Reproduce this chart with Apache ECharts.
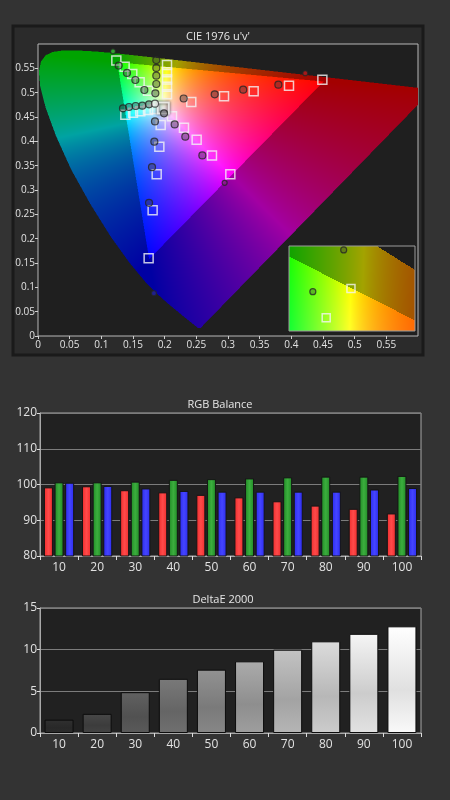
<!DOCTYPE html>
<html><head><meta charset="utf-8">
<script src="https://cdn.jsdelivr.net/npm/echarts@6/dist/echarts.min.js"></script>
<style>html,body{margin:0;padding:0;background:#333333;}#c{width:450px;height:800px;}</style>
</head><body><div id="c"></div><script>
// ---------- CIE 1976 u'v' spectral locus (closed by the purple line) ----------
const locusU = [0.2568,0.2522,0.2347,0.2161,0.2033,0.1877,0.1690,0.1441,0.1147,0.0828,0.0521,0.0282,0.0119,0.0035,0.0014,0.0046,0.0123,0.0231,0.0360,0.0501,0.0643,0.0792,0.0953,0.1127,0.1319,0.1531,0.2026,0.2623,0.3315,0.4035,0.4692,0.5203,0.5565,0.5830,0.6005,0.6234];
const locusV = [0.0166,0.0169,0.0350,0.0549,0.0688,0.0871,0.1119,0.1510,0.2044,0.2708,0.3427,0.4117,0.4698,0.5131,0.5432,0.5638,0.5770,0.5837,0.5861,0.5868,0.5865,0.5856,0.5841,0.5821,0.5796,0.5766,0.5694,0.5604,0.5501,0.5393,0.5296,0.5219,0.5165,0.5125,0.5099,0.5065];
const uvRange = [0, 0.6];
const insetURange = [0.132, 0.279];
const insetVRange = [0.5408, 0.5646];

// saturation sweep 20%,40%,60%,80%,100%  [u', v']
const redTarget = [[0.242,0.481],[0.2937,0.4925],[0.3405,0.5027],[0.3963,0.5144],[0.449,0.5267]];
const redMeasured = [[0.230,0.488],[0.279,0.4966],[0.324,0.5062],[0.3795,0.5165],[0.422,0.540]];
const greenTarget = [[0.1737,0.5041],[0.1605,0.5213],[0.1489,0.5384],[0.1368,0.5535],[0.1237,0.566]];
const greenMeasured = [[0.1679,0.5055],[0.1537,0.526],[0.1405,0.5405],[0.1274,0.5556],[0.1184,0.585]];
const blueTarget = [[0.1937,0.4335],[0.1916,0.3889],[0.1874,0.3326],[0.181,0.2586],[0.1747,0.1598]];
const blueMeasured = [[0.1847,0.441],[0.1837,0.3992],[0.18,0.347],[0.1753,0.2737],[0.183,0.0878]];
const cyanTarget = [[0.1842,0.4664],[0.1737,0.4643],[0.1616,0.4616],[0.15,0.4588],[0.1379,0.4547]];
const cyanMeasured = [[0.1753,0.476],[0.1647,0.4733],[0.1542,0.4726],[0.1437,0.4705],[0.1342,0.4678]];
const magentaTarget = [[0.2116,0.4513],[0.2305,0.428],[0.2505,0.4033],[0.2747,0.371],[0.3037,0.3326]];
const magentaMeasured = [[0.199,0.4575],[0.2158,0.4348],[0.2326,0.4095],[0.2595,0.371],[0.2947,0.3148]];
const yellowTarget = [[0.2037,0.497],[0.2037,0.512],[0.2037,0.527],[0.2037,0.542],[0.2037,0.557]];
const yellowMeasured = [[0.1853,0.4986],[0.1868,0.5178],[0.1868,0.535],[0.1868,0.5508],[0.1868,0.567]];
const whiteTarget = [[0.1978,0.4683]];
const whiteMeasured = [[0.1847,0.4774]];
// inset (zoomed) view points
const insetSquares = [[0.2043,0.5527],[0.1754,0.5445]];
const insetCircles = [[0.1958,0.5635],[0.1598,0.5518]];

// ---------- RGB Balance / DeltaE ----------
const levels = ['10','20','30','40','50','60','70','80','90','100'];
const rgbRed = [99.2,99.5,98.4,97.8,97.1,96.4,95.3,94.1,93.2,91.9];
const rgbGreen = [100.6,100.6,100.8,101.3,101.5,101.7,102.0,102.2,102.2,102.4];
const rgbBlue = [100.5,99.6,98.9,98.2,98.0,98.0,98.0,98.0,98.6,99.0];
const deltaE = [1.6,2.3,4.9,6.5,7.6,8.6,10.0,11.0,11.9,12.8];

const FONT = '"Open Sans", "Noto Sans", sans-serif';

function uvToRgb(u, v) {
  const den = 6*u - 16*v + 12;
  const x = 9*u/den, y = 4*v/den;
  const X = x/y, Z = (1-x-y)/y;
  let r = 3.2406*X - 1.5372 - 0.4986*Z;
  let g = -0.9689*X + 1.8758 + 0.0415*Z;
  let b = 0.0557*X - 0.2040 + 1.0570*Z;
  const inside = r >= 0 && g >= 0 && b >= 0;
  r = Math.max(r,0); g = Math.max(g,0); b = Math.max(b,0);
  if (!inside) g *= 1.25;
  const m = Math.max(r,g,b) || 1;
  const k = inside ? 1 : 0.64;
  return [r,g,b].map(function(c){
    c = Math.pow(c / m, 0.85);
    return Math.round(255*Math.min(1,c)*k);
  });
}
function gamutCanvas(uR, vR, w, h) {
  const cv = document.createElement('canvas'); cv.width = w; cv.height = h;
  const ctx = cv.getContext('2d'); const im = ctx.createImageData(w, h); const d = im.data;
  const n = locusU.length;
  for (let j = 0; j < h; j++) {
    const v = vR[1] - (j+0.5)/h*(vR[1]-vR[0]);
    const xs = [];
    for (let k = 0; k < n; k++) {
      const k2 = (k+1)%n;
      const ua = locusU[k], va = locusV[k], ub = locusU[k2], vb = locusV[k2];
      if ((va > v) !== (vb > v)) xs.push(ua + (v-va)/(vb-va)*(ub-ua));
    }
    for (let i = 0; i < w; i++) {
      const u = uR[0] + (i+0.5)/w*(uR[1]-uR[0]);
      let c = 0; for (let q = 0; q < xs.length; q++) if (xs[q] < u) c++;
      if (c % 2 === 0) continue;
      const rgb = uvToRgb(u, v); const p = (j*w+i)*4;
      d[p] = rgb[0]; d[p+1] = rgb[1]; d[p+2] = rgb[2]; d[p+3] = 255;
    }
  }
  ctx.putImageData(im, 0, 0);
  return cv;
}
const mainCanvas = gamutCanvas(uvRange, uvRange, 760, 584);
const insetCanvas = gamutCanvas(insetURange, insetVRange, 378, 255);

function gray(g){ g = Math.max(0, Math.min(255, Math.round(g))); return 'rgb('+g+','+g+','+g+')'; }

const series = [];
series.push({
  type: 'custom', xAxisIndex: 0, yAxisIndex: 0, silent: true, clip: true, z: 1,
  data: [uvRange],
  renderItem: function(params, api) {
    const tl = api.coord([uvRange[0], uvRange[1]]);
    const br = api.coord([uvRange[1], uvRange[0]]);
    return { type: 'image', style: { image: mainCanvas, x: tl[0], y: tl[1], width: br[0]-tl[0], height: br[1]-tl[1] } };
  }
});
const targetSets = [redTarget, greenTarget, blueTarget, cyanTarget, magentaTarget, yellowTarget];
targetSets.forEach(function(arr){
  series.push({ type: 'scatter', xAxisIndex: 0, yAxisIndex: 0, data: arr, symbol: 'rect', symbolSize: 9, silent: true, z: 3,
    itemStyle: { color: 'rgba(0,0,0,0)', borderColor: '#f4f4f4', borderWidth: 1.5 } });
});
series.push({ type: 'scatter', xAxisIndex: 0, yAxisIndex: 0, data: whiteTarget, symbol: 'rect', symbolSize: 11, silent: true, z: 3,
  itemStyle: { color: 'rgba(255,255,255,0.15)', borderColor: '#ffffff', borderWidth: 2, shadowColor: '#000', shadowBlur: 3 } });
const measuredSets = [
  [redMeasured, '#c81818'], [greenMeasured, '#36c436'], [blueMeasured, '#2020a8'],
  [cyanMeasured, null], [magentaMeasured, '#8a1a8a'], [yellowMeasured, null]
];
measuredSets.forEach(function(s){
  const full = s[1];
  series.push({ type: 'scatter', xAxisIndex: 0, yAxisIndex: 0, data: s[0], symbol: 'circle', silent: true, z: 4,
    symbolSize: function(val, p){ return (full && p.dataIndex === 4) ? 5 : 7; },
    itemStyle: {
      color: function(p){ return (full && p.dataIndex === 4) ? full : 'rgba(60,60,60,0.5)'; },
      borderColor: '#262626', borderWidth: 1.2 } });
});
series.push({ type: 'scatter', xAxisIndex: 0, yAxisIndex: 0, data: whiteMeasured, symbol: 'circle', symbolSize: 7, silent: true, z: 4,
  itemStyle: { color: 'rgba(235,235,235,0.9)', borderColor: '#333', borderWidth: 1.2 } });

// inset
series.push({
  type: 'custom', xAxisIndex: 1, yAxisIndex: 1, silent: true, clip: false, z: 5,
  data: [[insetURange[0], insetVRange[0]]],
  renderItem: function(params, api) {
    const tl = api.coord([insetURange[0], insetVRange[1]]);
    const br = api.coord([insetURange[1], insetVRange[0]]);
    return { type: 'group', children: [
      { type: 'rect', shape: { x: tl[0], y: tl[1], width: br[0]-tl[0], height: br[1]-tl[1] }, style: { fill: '#1e1e1e' } },
      { type: 'image', style: { image: insetCanvas, x: tl[0], y: tl[1], width: br[0]-tl[0], height: br[1]-tl[1] } },
      { type: 'rect', shape: { x: tl[0], y: tl[1], width: br[0]-tl[0], height: br[1]-tl[1] }, style: { fill: 'none', stroke: '#9c9c9c', lineWidth: 1 } }
    ] };
  }
});
series.push({ type: 'scatter', xAxisIndex: 1, yAxisIndex: 1, data: insetSquares, symbol: 'rect', symbolSize: 8, silent: true, z: 6,
  itemStyle: { color: 'rgba(0,0,0,0)', borderColor: '#f4f4f4', borderWidth: 1.5 } });
series.push({ type: 'scatter', xAxisIndex: 1, yAxisIndex: 1, data: insetCircles, symbol: 'circle', symbolSize: 6, silent: true, z: 6,
  itemStyle: { color: 'rgba(60,60,60,0.45)', borderColor: '#262626', borderWidth: 1.2 } });

function hGrad(edge, mid) {
  return new echarts.graphic.LinearGradient(0,0,1,0,[{offset:0,color:edge},{offset:0.5,color:mid},{offset:1,color:edge}]);
}
const rgbBar = { type: 'bar', xAxisIndex: 2, yAxisIndex: 2, barWidth: 9, barGap: '18%', silent: true };
series.push(Object.assign({}, rgbBar, { data: rgbRed, itemStyle: { color: hGrad('#ee2c2c', '#ff4a4a'), borderColor: '#151515', borderWidth: 1 } }));
series.push(Object.assign({}, rgbBar, { data: rgbGreen, itemStyle: { color: hGrad('#1f8a25', '#3cae3e'), borderColor: '#151515', borderWidth: 1 } }));
series.push(Object.assign({}, rgbBar, { data: rgbBlue, itemStyle: { color: hGrad('#2a2aee', '#4545ff'), borderColor: '#151515', borderWidth: 1 } }));
series.push({ type: 'bar', xAxisIndex: 3, yAxisIndex: 3, data: deltaE, barWidth: 29, silent: true,
  itemStyle: {
    color: function(p){ const g = 44 + p.dataIndex*22.8;
      return new echarts.graphic.LinearGradient(0,0,0,1,[{offset:0,color:gray(g*1.08)},{offset:0.6,color:gray(g*0.9)},{offset:1,color:gray(g*1.0)}]); },
    borderColor: '#0c0c0c', borderWidth: 1 } });

const labelStyle = { color: '#e2e2e2', fontFamily: FONT };
function catAxis(gi) {
  return { gridIndex: gi, type: 'category', data: levels,
    axisLine: { show: true, lineStyle: { color: '#a8a8a8' } },
    axisTick: { show: true, length: 4, lineStyle: { color: '#dddddd' } },
    axisLabel: Object.assign({ fontSize: 12, margin: 6 }, labelStyle), splitLine: { show: false } };
}
function valAxis(gi, min, max, step) {
  return { gridIndex: gi, type: 'value', min: min, max: max, interval: step,
    axisLine: { show: true, lineStyle: { color: '#a8a8a8' } },
    axisTick: { show: true, length: 3, lineStyle: { color: '#dddddd' } },
    axisLabel: Object.assign({ fontSize: 12, margin: 3 }, labelStyle),
    splitLine: { show: true, lineStyle: { color: '#7c7c7c', width: 1 } } };
}

const option = {
  animation: false,
  backgroundColor: '#333333',
  textStyle: { fontFamily: FONT },
  graphic: [
    { type: 'rect', z: -10, shape: { x: 13, y: 26, width: 410, height: 329 }, style: { fill: '#2b2b2b', stroke: '#1a1a1a', lineWidth: 3 } },
    { type: 'text', x: 218, y: 37, style: { text: "CIE 1976 u'v'", fill: '#e6e6e6', font: '11px ' + FONT, align: 'center', verticalAlign: 'middle', textAlign: 'center', textVerticalAlign: 'middle' } },
    { type: 'text', x: 220, y: 405, style: { text: 'RGB Balance', fill: '#e6e6e6', font: '11px ' + FONT, align: 'center', verticalAlign: 'middle', textAlign: 'center', textVerticalAlign: 'middle' } },
    { type: 'text', x: 223, y: 600, style: { text: 'DeltaE 2000', fill: '#e6e6e6', font: '11px ' + FONT, align: 'center', verticalAlign: 'middle', textAlign: 'center', textVerticalAlign: 'middle' } }
  ],
  grid: [
    { left: 38, top: 44, width: 380, height: 292, show: true, backgroundColor: '#1f1f1f', borderColor: '#b8b8b8', borderWidth: 1 },
    { left: 289, top: 246, width: 126, height: 85, show: false },
    { left: 40, top: 413, width: 381, height: 143, show: true, backgroundColor: '#212121', borderColor: '#a8a8a8', borderWidth: 1 },
    { left: 40, top: 608, width: 381, height: 125, show: true, backgroundColor: '#212121', borderColor: '#a8a8a8', borderWidth: 1 }
  ],
  xAxis: [
    { gridIndex: 0, type: 'value', min: uvRange[0], max: uvRange[1], interval: 0.05,
      axisLine: { show: false }, axisTick: { show: true, length: 3, lineStyle: { color: '#d0d0d0' } },
      axisLabel: Object.assign({ fontSize: 10, margin: 4, showMaxLabel: false }, labelStyle), splitLine: { show: false } },
    { gridIndex: 1, type: 'value', min: insetURange[0], max: insetURange[1], show: false, splitLine: { show: false } },
    catAxis(2), catAxis(3)
  ],
  yAxis: [
    { gridIndex: 0, type: 'value', min: uvRange[0], max: uvRange[1], interval: 0.05,
      axisLine: { show: false }, axisTick: { show: true, length: 3, lineStyle: { color: '#d0d0d0' } },
      axisLabel: Object.assign({ fontSize: 10, margin: 3, showMaxLabel: false }, labelStyle), splitLine: { show: false } },
    { gridIndex: 1, type: 'value', min: insetVRange[0], max: insetVRange[1], show: false, splitLine: { show: false } },
    valAxis(2, 80, 120, 10), valAxis(3, 0, 15, 5)
  ],
  series: series
};
const chart = echarts.init(document.getElementById('c'), null, { renderer: 'canvas' });
chart.setOption(option);
</script></body></html>
